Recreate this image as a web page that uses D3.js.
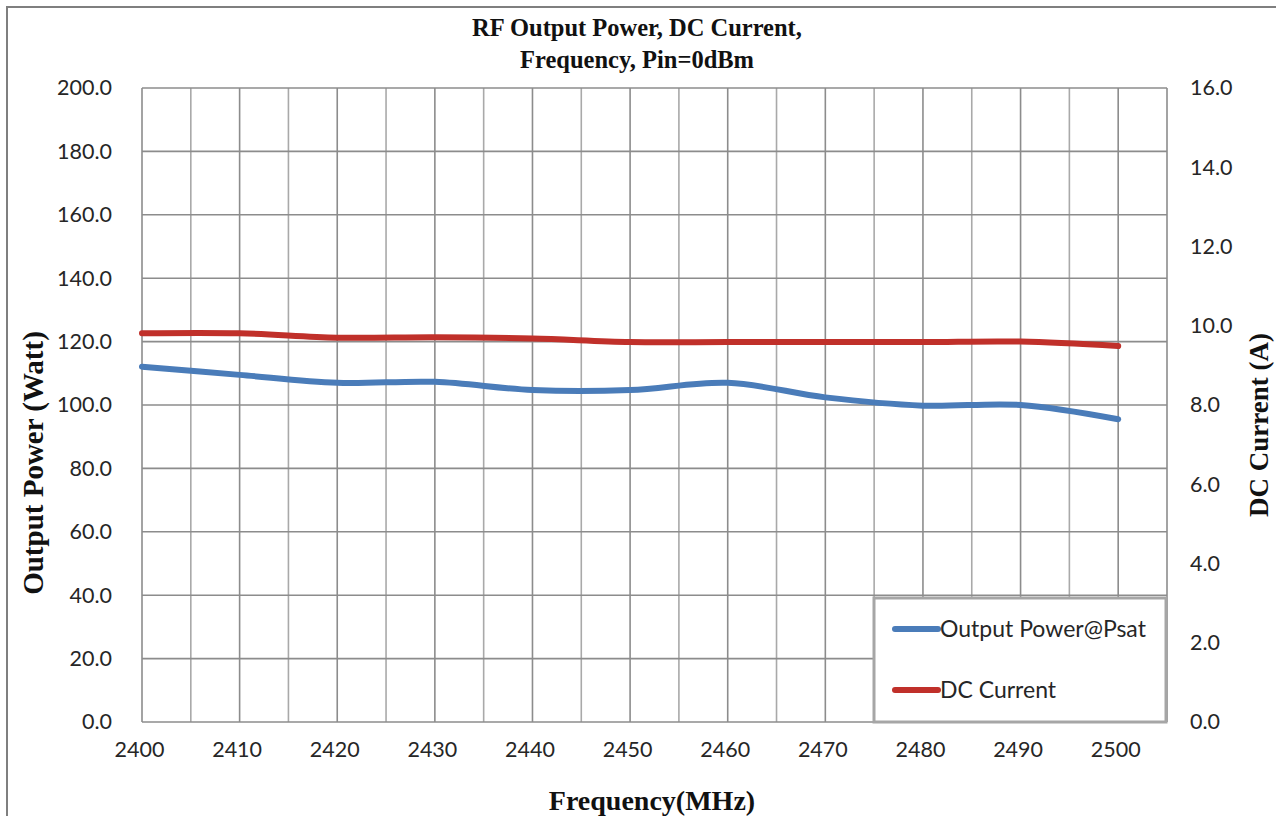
<!DOCTYPE html>
<html>
<head>
<meta charset="utf-8">
<script src="https://cdn.jsdelivr.net/npm/d3@7"></script>
<style>
  body { margin: 0; background: #fff; }
  .tick text { font-family: Lato, "Open Sans", sans-serif; font-size: 21.5px; fill: #262626; }
  .serif { font-family: "Liberation Serif", "Times New Roman", serif; font-weight: bold; fill: #111; }
</style>
</head>
<body>
<div id="chart"></div>
<script>
// data
const freqs = [2400, 2410, 2420, 2430, 2440, 2450, 2460, 2470, 2480, 2490, 2500];
const outputPower = [112.1, 109.5, 107.0, 107.3, 104.7, 104.7, 107.0, 102.4, 99.8, 100.0, 95.5];
const dcCurrent = [9.81, 9.81, 9.70, 9.71, 9.68, 9.59, 9.59, 9.59, 9.59, 9.60, 9.49];

const powerTicks = [0, 20, 40, 60, 80, 100, 120, 140, 160, 180, 200];
const currentTicks = [0, 2, 4, 6, 8, 10, 12, 14, 16];
const freqTicks = [2400, 2410, 2420, 2430, 2440, 2450, 2460, 2470, 2480, 2490, 2500];
const freqGrid = [2400, 2405, 2410, 2415, 2420, 2425, 2430, 2435, 2440, 2445, 2450,
  2455, 2460, 2465, 2470, 2475, 2480, 2485, 2490, 2495, 2500, 2505];

const seriesNames = ['Output Power@Psat', 'DC Current'];
const seriesColors = ['#4a7cb9', '#c0302a'];

const width = 1276;
const height = 816;
const margin = {top: 88, right: 109, bottom: 94, left: 142};

const svg = d3.select('#chart').append('svg')
  .attr('width', width)
  .attr('height', height);

// outer chart frame (runs off the right and bottom)
svg.append('rect')
  .attr('x', 7).attr('y', 7)
  .attr('width', 1400).attr('height', 1000)
  .attr('fill', 'none')
  .attr('stroke', '#7f7f7f')
  .attr('stroke-width', 2);

// scales
const xScale = d3.scaleLinear()
  .domain([2400, 2505])
  .range([margin.left, width - margin.right]);

const yLeft = d3.scaleLinear()
  .domain([0, 200])
  .range([height - margin.bottom, margin.top]);

const yRight = d3.scaleLinear()
  .domain([0, 16])
  .range([height - margin.bottom, margin.top]);

// grid
const grid = svg.append('g');
grid.selectAll('.vline')
  .data(freqGrid)
  .enter().append('line')
  .attr('x1', d => xScale(d)).attr('x2', d => xScale(d))
  .attr('y1', yLeft(0)).attr('y2', yLeft(200))
  .attr('stroke', d => (d % 10 === 0 || d === 2505) ? '#8c8c8c' : '#a9a9a9')
  .attr('stroke-width', 1.6);

grid.selectAll('.hline')
  .data(powerTicks)
  .enter().append('line')
  .attr('x1', xScale(2400)).attr('x2', xScale(2505))
  .attr('y1', d => yLeft(d)).attr('y2', d => yLeft(d))
  .attr('stroke', '#8c8c8c')
  .attr('stroke-width', 1.6);

// axes
const fmt = d3.format('.1f');

const yAxisL = d3.axisLeft(yLeft).tickValues(powerTicks).tickFormat(fmt).tickSize(0).tickPadding(30);
svg.append('g')
  .attr('transform', `translate(${margin.left}, 0)`)
  .call(yAxisL)
  .call(g => g.select('.domain').remove());

const yAxisR = d3.axisRight(yRight).tickValues(currentTicks).tickFormat(fmt).tickSize(0).tickPadding(23);
svg.append('g')
  .attr('transform', `translate(${width - margin.right}, 0)`)
  .call(yAxisR)
  .call(g => g.select('.domain').remove());

const xAxis = d3.axisBottom(xScale).tickValues(freqTicks).tickFormat(d3.format('d')).tickSize(0).tickPadding(20);
svg.append('g')
  .attr('transform', `translate(-3, ${height - margin.bottom})`)
  .call(xAxis)
  .call(g => g.select('.domain').remove());

// lines
const powerLine = d3.line()
  .x((d, i) => xScale(freqs[i]))
  .y(d => yLeft(d))
  .curve(d3.curveCatmullRom);

const currentLine = d3.line()
  .x((d, i) => xScale(freqs[i]))
  .y(d => yRight(d))
  .curve(d3.curveCatmullRom);

svg.append('path')
  .datum(dcCurrent)
  .attr('d', currentLine)
  .attr('fill', 'none')
  .attr('stroke', seriesColors[1])
  .attr('stroke-width', 6)
  .attr('stroke-linecap', 'round');

svg.append('path')
  .datum(outputPower)
  .attr('d', powerLine)
  .attr('fill', 'none')
  .attr('stroke', seriesColors[0])
  .attr('stroke-width', 6)
  .attr('stroke-linecap', 'round');

// legend
const legend = svg.append('g').attr('class', 'legend');
legend.append('rect')
  .attr('x', 874).attr('y', 598)
  .attr('width', 292).attr('height', 124)
  .attr('fill', '#fff')
  .attr('stroke', '#a6a6a6')
  .attr('stroke-width', 3);

seriesNames.forEach((name, i) => {
  const ly = 629 + i * 61;
  legend.append('line')
    .attr('x1', 895).attr('x2', 938)
    .attr('y1', ly).attr('y2', ly)
    .attr('stroke', seriesColors[i])
    .attr('stroke-width', 6)
    .attr('stroke-linecap', 'round');
  legend.append('text')
    .attr('x', 940).attr('y', ly)
    .attr('dy', '0.35em')
    .style('font-family', 'Lato, "Open Sans", sans-serif')
    .style('font-size', '23px')
    .attr('fill', '#262626')
    .text(name);
});

// titles
svg.append('text')
  .attr('class', 'serif')
  .attr('x', 637).attr('y', 36)
  .attr('text-anchor', 'middle')
  .style('font-size', '24.5px')
  .text('RF Output Power, DC Current,');

svg.append('text')
  .attr('class', 'serif')
  .attr('x', 637).attr('y', 68)
  .attr('text-anchor', 'middle')
  .style('font-size', '24.5px')
  .text('Frequency, Pin=0dBm');

svg.append('text')
  .attr('class', 'serif')
  .attr('transform', 'translate(43, 463) rotate(-90)')
  .attr('text-anchor', 'middle')
  .style('font-size', '29px')
  .text('Output Power (Watt)');

svg.append('text')
  .attr('class', 'serif')
  .attr('transform', 'translate(1268, 425) rotate(-90)')
  .attr('text-anchor', 'middle')
  .style('font-size', '27px')
  .text('DC Current (A)');

svg.append('text')
  .attr('class', 'serif')
  .attr('x', 652).attr('y', 810)
  .attr('text-anchor', 'middle')
  .style('font-size', '28px')
  .text('Frequency(MHz)');
</script>
</body>
</html>
